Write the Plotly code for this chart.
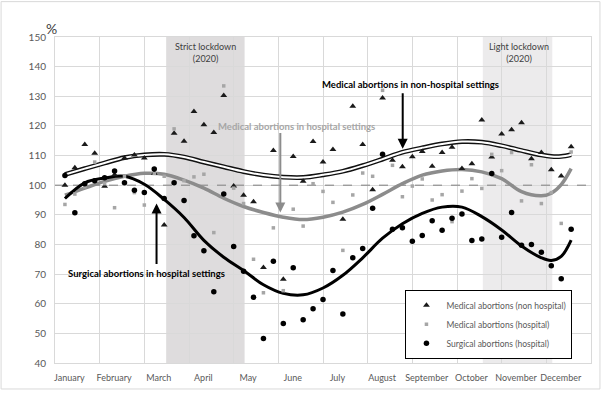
import plotly.graph_objects as go

# ---------------- data ----------------
weeks = list(range(1, 53))
medical_non_hospital = [100.0, 105.9, 113.7, 110.8, 99.6, 103.5, 109.2, 110.2, 109.2, 104.0,
                        86.6, 117.5, 114.8, 124.9, 120.4, 117.8, 130.3, 99.7, 96.6, 94.4,
                        72.2, 111.7, 68.3, 109.7, 101.3, 114.7, 107.8, 112.0, 88.5, 126.6,
                        113.7, 98.5, 129.4, 108.4, 106.2, 109.6, 111.4, 106.4, 111.0, 112.8,
                        105.6, 107.2, 122.0, 109.5, 117.3, 118.7, 121.1, 108.9, 111.0, 105.2,
                        103.1, 113.0]
medical_hospital = [93.5, 97.0, 99.5, 107.8, 100.5, 92.4, 103.0, 97.5, 93.3, 104.0,
                    103.0, 119.0, 101.5, 102.8, 103.7, 84.0, 133.5, 99.0, 93.8, 75.0,
                    63.7, 85.6, 64.4, 91.9, 86.2, 100.5, 97.9, 94.2, 78.0, 96.7,
                    104.1, 103.0, 132.0, 106.7, 96.1, 99.7, 102.1, 95.0, 96.8, 87.7,
                    98.0, 102.2, 98.9, 110.4, 104.9, 111.0, 94.7, 106.9, 93.8, 97.5,
                    87.1, 111.2]
surgical_hospital = [103.3, 90.7, 100.5, 101.5, 102.5, 104.8, 100.8, 98.3, 97.5, 105.5,
                     95.5, 100.8, 94.8, 82.9, 77.9, 64.0, 97.0, 79.3, 71.0, 62.2,
                     48.3, 74.3, 53.3, 72.1, 54.6, 58.3, 61.4, 71.2, 56.5, 75.5,
                     78.6, 92.2, 110.4, 85.1, 85.6, 81.1, 83.0, 88.0, 84.8, 88.8,
                     90.3, 81.3, 81.8, 103.9, 82.4, 90.8, 79.7, 80.0, 77.4, 72.8,
                     68.4, 85.1]

# trend curves
trend_weeks = [1, 3, 5, 7, 9, 11, 13, 15, 17, 19, 21, 23, 25, 27, 29, 31, 33, 35, 37,
               39, 41, 43, 45, 47, 49, 50, 51, 52]
trend_non_hospital = [103.6, 105.6, 107.5, 109.3, 110.2, 110.4, 109.5, 107.8, 106.2, 104.6,
                      103.4, 102.7, 102.6, 103.5, 104.7, 106.6, 108.8, 111.1, 112.6, 113.9,
                      114.7, 114.5, 113.3, 111.7, 110.2, 109.7, 109.7, 110.3]
trend_hospital = [96.6, 99.0, 101.3, 103.0, 104.0, 103.7, 101.7, 99.0, 95.6, 92.8,
                  90.8, 89.2, 88.4, 89.2, 90.9, 93.5, 96.9, 100.5, 103.4, 104.8,
                  105.3, 104.5, 102.2, 97.8, 96.4, 97.3, 100.2, 105.6]
trend_surgical = [95.5, 100.8, 102.4, 103.0, 100.3, 95.2, 89.1, 81.4, 75.7, 71.2,
                  66.4, 63.5, 63.0, 65.3, 69.6, 75.5, 82.1, 87.0, 90.5, 92.6,
                  92.6, 89.4, 84.9, 79.5, 75.5, 74.6, 76.0, 81.5]

months = ["January", "February", "March", "April", "May", "June", "July",
          "August", "September", "October", "November", "December"]
strict_lockdown = (11.2, 19.1)
light_lockdown = (43.1, 50.1)
baseline = 100

WEEKS_PER_MONTH = 4.5
X_MAX = WEEKS_PER_MONTH * len(months)
FONT = "Lato"
TXT = "#595959"

fig = go.Figure()

# baseline dashed
fig.add_trace(go.Scatter(x=[0, X_MAX], y=[baseline, baseline], mode="lines",
                         line=dict(color="#7f7f7f", width=1, dash="dash"),
                         showlegend=False, hoverinfo="skip"))

# trend lines
fig.add_trace(go.Scatter(x=trend_weeks, y=trend_hospital, mode="lines",
                         line=dict(color="#8c8c8c", width=3.5, shape="spline"),
                         showlegend=False))
fig.add_trace(go.Scatter(x=trend_weeks, y=trend_surgical, mode="lines",
                         line=dict(color="#000000", width=3, shape="spline"),
                         showlegend=False))
fig.add_trace(go.Scatter(x=trend_weeks, y=trend_non_hospital, mode="lines",
                         line=dict(color="#111111", width=4.8, shape="spline"),
                         showlegend=False))
fig.add_trace(go.Scatter(x=trend_weeks, y=trend_non_hospital, mode="lines",
                         line=dict(color="#ffffff", width=2.0, shape="spline"),
                         showlegend=False))

# data points
fig.add_trace(go.Scatter(x=weeks, y=medical_non_hospital, mode="markers",
                         name="Medical abortions (non hospital)",
                         marker=dict(symbol="triangle-up", size=6, color="#1a1a1a",
                                     line=dict(width=0))))
fig.add_trace(go.Scatter(x=weeks, y=medical_hospital, mode="markers",
                         name="Medical abortions (hospital)",
                         marker=dict(symbol="square", size=3.5, color="#a6a6a6")))
fig.add_trace(go.Scatter(x=weeks, y=surgical_hospital, mode="markers",
                         name="Surgical abortions (hospital)",
                         marker=dict(symbol="circle", size=5.5, color="#000000")))

shapes = [
    dict(type="rect", xref="x", yref="paper", x0=strict_lockdown[0], x1=strict_lockdown[1],
         y0=0, y1=1, fillcolor="#dedcdd", line=dict(width=0), layer="below"),
    dict(type="rect", xref="x", yref="paper", x0=light_lockdown[0], x1=light_lockdown[1],
         y0=0, y1=1, fillcolor="#ecebec", line=dict(width=0), layer="below"),
    dict(type="rect", xref="paper", yref="paper", x0=-0.1006, x1=1.0167, y0=-0.0797, y1=1.1085,
         fillcolor="rgba(0,0,0,0)", line=dict(color="#d9d9d9", width=1), layer="below"),
]

annotations = [
    dict(text="%", xref="paper", yref="paper", x=-0.021, y=1.059, showarrow=False,
         font=dict(size=14, color="#404040", family=FONT)),
    dict(text="Strict lockdown<br>(2020)", xref="x", yref="y", x=15.2, y=144.8,
         showarrow=False, font=dict(size=9, color="#404040", family=FONT)),
    dict(text="Light lockdown<br>(2020)", xref="x", yref="y", x=46.7, y=144.8,
         showarrow=False, font=dict(size=9, color="#404040", family=FONT)),
    dict(text="<b>Medical abortions in non-hospital settings</b>", xref="x", yref="y",
         x=35.8, y=134.0, showarrow=False, font=dict(size=9.5, color="#000000", family=FONT)),
    dict(text="<b>Medical abortions in hospital settings</b>", xref="x", yref="y",
         x=24.3, y=119.7, showarrow=False, font=dict(size=9.5, color="#a6a6a6", family=FONT)),
    dict(text="<b>Surgical abortions in hospital settings</b>", xref="x", yref="y",
         x=9.2, y=70.2, showarrow=False, font=dict(size=9.5, color="#000000", family=FONT)),
    # arrows
    dict(text="", xref="x", yref="y", x=35.03, y=112.3, ax=0, ay=-57, showarrow=True,
         arrowhead=2, arrowsize=1, arrowwidth=2, arrowcolor="#000000"),
    dict(text="", xref="x", yref="y", x=22.7, y=90.8, ax=0, ay=-81, showarrow=True,
         arrowhead=2, arrowsize=1, arrowwidth=2, arrowcolor="#8c8c8c"),
    dict(text="", xref="x", yref="y", x=10.23, y=93.8, ax=0, ay=62, showarrow=True,
         arrowhead=2, arrowsize=1, arrowwidth=2, arrowcolor="#000000"),
]

fig.update_layout(
    width=603, height=394,
    margin=dict(l=55, r=11, t=37, b=28),
    paper_bgcolor="white", plot_bgcolor="white",
    font=dict(family=FONT, color=TXT),
    shapes=shapes, annotations=annotations,
    legend=dict(x=0.8096, y=0.1185, xanchor="center", yanchor="middle",
                bgcolor="white", bordercolor="#000000", borderwidth=1,
                font=dict(size=8.5, color=TXT, family=FONT), tracegroupgap=0),
)

fig.update_xaxes(
    range=[0, X_MAX],
    tickmode="array",
    tickvals=[WEEKS_PER_MONTH * i + 1.45 for i in range(len(months))],
    ticktext=months,
    showgrid=False, zeroline=False, ticks="",
    tickfont=dict(size=9, color=TXT, family=FONT),
    minor=dict(tickmode="linear", tick0=0, dtick=WEEKS_PER_MONTH, showgrid=True,
               gridcolor="#d9d9d9", gridwidth=1, ticks=""),
    showline=True, linecolor="#d9d9d9", mirror=True,
    ticklabelstandoff=6,
)
fig.update_yaxes(
    range=[40, 150], dtick=10, showgrid=True, gridcolor="#d9d9d9", zeroline=False,
    ticks="", tickfont=dict(size=10, color=TXT, family=FONT),
    showline=True, linecolor="#d9d9d9", mirror=True, ticklabelstandoff=6,
)

fig.write_html("out.html")
